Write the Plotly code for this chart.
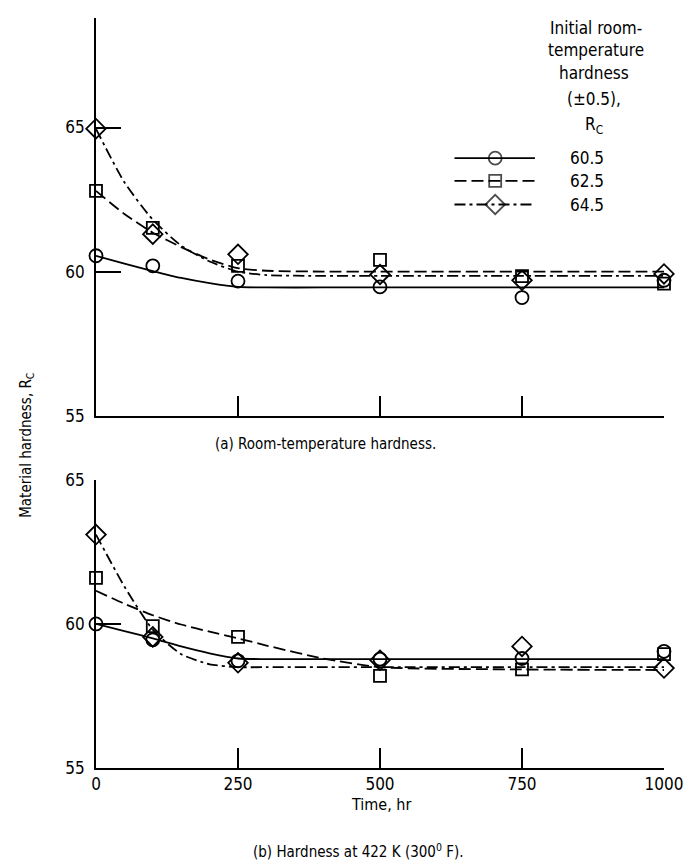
import plotly.graph_objects as go

# ---------------- data ----------------
hours = [0, 100, 250, 500, 750, 1000]
series_names = ["60.5", "62.5", "64.5"]

# (a) room-temperature hardness, Rc
a_circle = [60.55, 60.2, 59.67, 59.47, 59.1, 59.7]
a_square = [62.8, 61.52, 60.2, 60.41, 59.84, 59.58]
a_diamond = [64.96, 61.3, 60.6, 59.9, 59.7, 59.92]

# (b) hardness at 422 K, Rc
b_circle = [60.0, 59.45, 58.72, 58.78, 58.8, 59.05]
b_square = [61.6, 59.92, 59.55, 58.2, 58.42, 58.95]
b_diamond = [63.1, 59.55, 58.65, 58.74, 59.22, 58.47]

# faired curves
curve_t = [0, 50, 100, 150, 200, 250, 300, 400, 500, 750, 1000]
a_fit_circle = [60.55, 60.28, 60.02, 59.78, 59.6, 59.47, 59.45, 59.45, 59.45, 59.45, 59.45]
a_fit_square = [62.8, 62.0, 61.35, 60.85, 60.42, 60.12, 60.03, 60.0, 60.0, 60.0, 60.0]
a_fit_diamond = [64.95, 63.1, 61.8, 60.9, 60.35, 60.0, 59.88, 59.85, 59.85, 59.85, 59.85]

b_fit_circle = [60.0, 59.75, 59.5, 59.22, 58.98, 58.8, 58.78, 58.78, 58.78, 58.78, 58.78]
b_fit_square = [61.15, 60.7, 60.3, 59.98, 59.73, 59.5, 59.25, 58.8, 58.5, 58.42, 58.4]
b_fit_diamond = [63.1, 61.3, 59.8, 58.95, 58.6, 58.5, 58.5, 58.5, 58.5, 58.5, 58.5]

x_ticks_top = [250, 500, 750, 1000]
x_ticks_bottom = [0, 250, 500, 750, 1000]
y_ticks = [55, 60, 65]

# ---------------- styles ----------------
FONT = "DejaVu Sans Condensed, Liberation Sans Narrow, Roboto Condensed, Arial Narrow, sans-serif"
BLACK = "black"
symbols = ["circle-open", "square-open", "diamond-open"]
msizes = [13, 12, 15]
dashes = ["solid", "12px,5px", "11px,4px,3px,4px"]
LW = 1.8

L, R, T, B = 96, 23, 8, 97
W, H = 691, 865
plot_w = W - L - R
plot_h = H - T - B


def px_x(px):
    return (px - L) / plot_w


def px_y(py):
    return (H - B - py) / plot_h


fig = go.Figure()

panels = [
    ("x", "y", [a_circle, a_square, a_diamond], [a_fit_circle, a_fit_square, a_fit_diamond]),
    ("x2", "y2", [b_circle, b_square, b_diamond], [b_fit_circle, b_fit_square, b_fit_diamond]),
]
for xa, ya, pts, fits in panels:
    for i in range(3):
        fig.add_trace(go.Scatter(
            x=curve_t, y=fits[i], mode="lines", xaxis=xa, yaxis=ya,
            line=dict(color=BLACK, width=LW, dash=dashes[i], shape="spline", smoothing=0.6),
            showlegend=False, hoverinfo="skip"))
        fig.add_trace(go.Scatter(
            x=hours, y=pts[i], mode="markers", xaxis=xa, yaxis=ya, cliponaxis=False,
            marker=dict(symbol=symbols[i], size=msizes[i], color=BLACK, line=dict(width=1.8, color=BLACK)),
            showlegend=False, hoverinfo="skip"))

# ---- legend keys drawn on a pixel-space overlay axis ----
key_rows = [150, 173, 197]
for i in range(3):
    yk = key_rows[i]
    fig.add_trace(go.Scatter(
        x=[457, 498, 538], y=[yk, yk, yk], mode="lines+markers", xaxis="x3", yaxis="y3",
        line=dict(color=BLACK, width=LW, dash=dashes[i]),
        marker=dict(symbol=symbols[i], size=[0, msizes[i], 0], color=BLACK, line=dict(width=1.8, color=BLACK)),
        showlegend=False, hoverinfo="skip", cliponaxis=False))


def ann(px, py, text, size=16, angle=0):
    return dict(x=px_x(px), y=px_y(py), xref="paper", yref="paper", text=text, showarrow=False,
                textangle=angle, font=dict(size=size, family=FONT, color=BLACK),
                xanchor="center", yanchor="middle")


annotations = []
for i in range(3):
    annotations.append(ann(590, key_rows[i], series_names[i], 17))

header = ["Initial room-", "temperature", "hardness", "(±0.5),", "R<sub>C</sub>"]
header_y = [18, 40, 64, 90, 117]
header_x = [600, 600, 598, 598, 598]
for t, yy, xx in zip(header, header_y, header_x):
    annotations.append(ann(xx, yy, t, 17))

annotations += [
    ann(327, 440, "(a) Room-temperature hardness.", 15),
    ann(26, 440, "Material hardness, R<sub>C</sub>", 15, -90),
    ann(383, 805, "Time, hr", 16),
    ann(360, 852, "(b) Hardness at 422 K (300<sup>0</sup> F).", 15),
]

top_bottom_px = 411
bot_top_px = 476
dom_top = [px_y(top_bottom_px), 1.0]
dom_bot = [0.0, px_y(bot_top_px)]

axis_common = dict(showline=True, linecolor=BLACK, linewidth=1.6, showgrid=False, zeroline=False,
                   ticks="inside", tickcolor=BLACK, tickwidth=1.6, mirror=False,
                   tickfont=dict(size=17, family=FONT, color=BLACK))

fig.update_layout(
    width=W, height=H,
    margin=dict(l=L, r=R, t=T, b=B),
    paper_bgcolor="white", plot_bgcolor="rgba(0,0,0,0)",
    showlegend=False,
    xaxis=dict(domain=[0, 1], anchor="y", range=[0, 1000], tickvals=x_ticks_top, ticklen=20,
               showticklabels=False, **axis_common),
    yaxis=dict(domain=dom_top, anchor="x", range=[55, 68.8], tickvals=y_ticks, ticklen=25,
               ticklabelstandoff=6, **axis_common),
    xaxis2=dict(domain=[0, 1], anchor="y2", range=[0, 1000], tickvals=x_ticks_bottom, ticklen=20,
                **axis_common),
    yaxis2=dict(domain=dom_bot, anchor="x2", range=[55, 65], tickvals=y_ticks, ticklen=25,
                ticklabelstandoff=6, **axis_common),
    xaxis3=dict(domain=[0, 1], anchor="y3", range=[L, W - R], visible=False, fixedrange=True),
    yaxis3=dict(domain=[0, 1], anchor="x3", range=[H - B, T], visible=False, fixedrange=True),
    annotations=annotations,
)

fig.write_html("out.html")
